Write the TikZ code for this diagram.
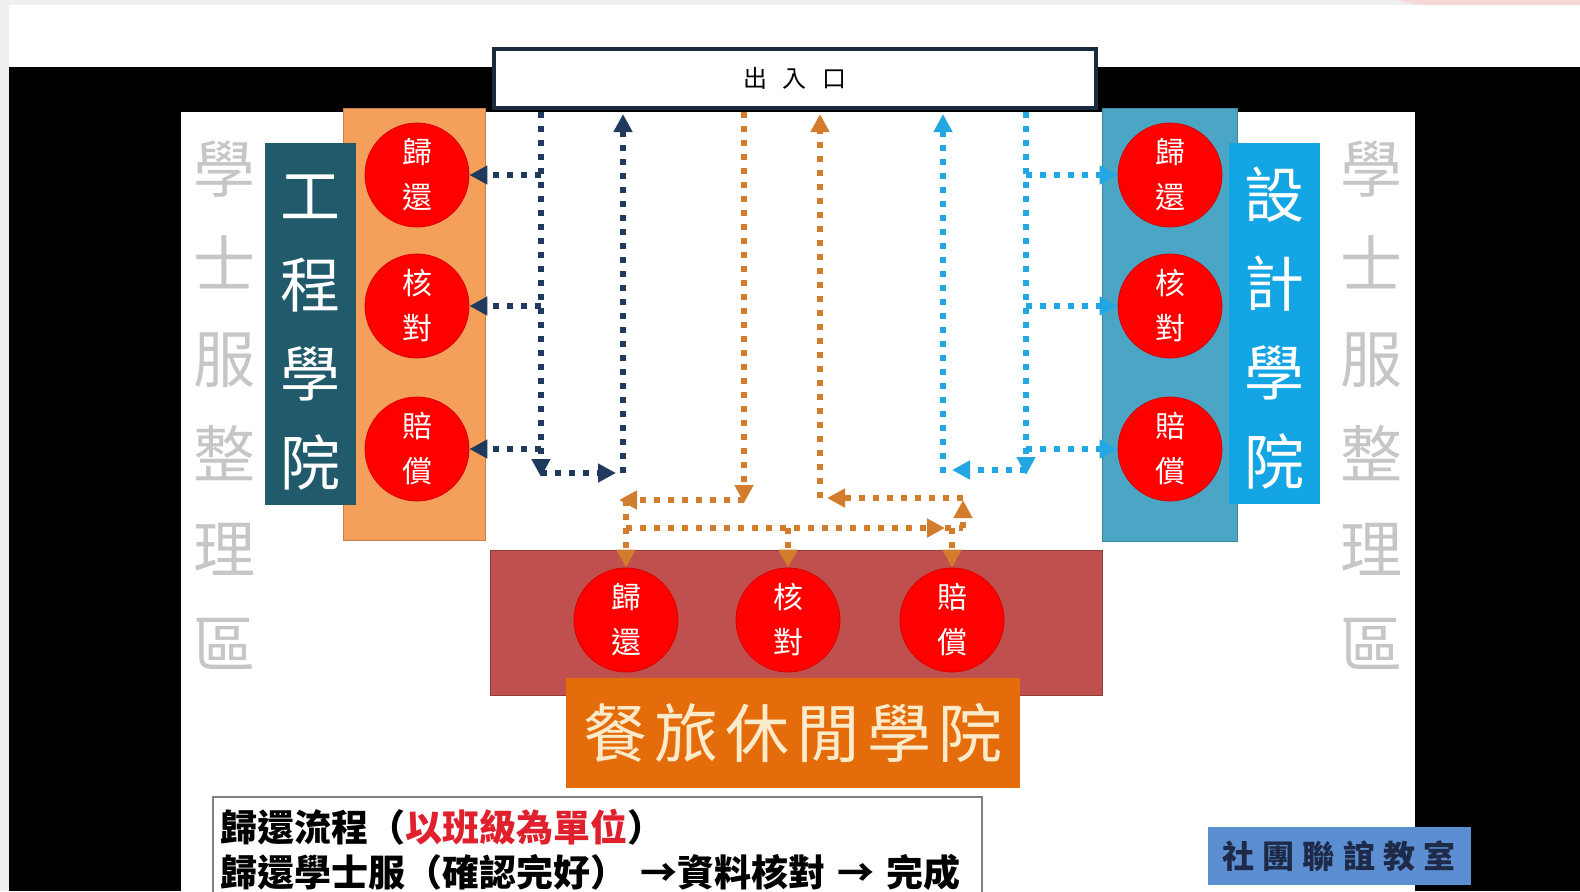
\documentclass[tikz,border=0pt]{standalone}
\usepackage{fontspec}
\usetikzlibrary{arrows.meta,shapes.geometric}
\newfontfamily\cjk{Noto Sans CJK TC}

\definecolor{edgegray}{HTML}{EFEFEF}
\definecolor{cornerpink}{HTML}{F4D9D6}
\definecolor{engorange}{HTML}{F4A05A}
\definecolor{engteal}{HTML}{215A6B}
\definecolor{dsnteal}{HTML}{4AA6C4}
\definecolor{dsnblue}{HTML}{14A5E5}
\definecolor{hallred}{HTML}{C0504D}
\definecolor{hallorange}{HTML}{E46C0A}
\definecolor{hallcream}{HTML}{FCEBCB}
\definecolor{stopred}{HTML}{FF0000}
\definecolor{robegray}{HTML}{C6C6C6}
\definecolor{exitnavy}{HTML}{1C2B3C}
\definecolor{flownavy}{HTML}{203A5E}
\definecolor{floworange}{HTML}{D27D2D}
\definecolor{flowcyan}{HTML}{22A7E2}
\definecolor{clubblue}{HTML}{5B8FD2}
\definecolor{clubtext}{HTML}{1E2A48}
\definecolor{notegray}{HTML}{808080}
\definecolor{notered}{HTML}{E0202C}

\tikzset{
  stop/.style={circle, fill=stopred, draw=stopred!85!black, line width=0.4pt,
    minimum size=52pt, inner sep=0pt, align=center,
    text=white, font=\cjk\fontsize{15}{22.5}\selectfont},
  college/.style={inner sep=0pt, align=center, text=white,
    font=\cjk\fontsize{30}{44.5}\selectfont},
  robearea/.style={inner sep=0pt, align=center, text=robegray,
    font=\cjk\fontsize{31}{47.5}\selectfont},
  flow/.style={line width=3.2pt, dash pattern=on 3pt off 4pt,
    -{Triangle[length=9pt,width=9pt]}},
  navyflow/.style={flow, color=flownavy},
  orangeflow/.style={flow, color=floworange},
  cyanflow/.style={flow, color=flowcyan},
  club/.style={fill=clubblue, inner sep=0pt, minimum width=131.5pt, minimum height=29pt,
    text=clubtext, font={\cjk\bfseries\fontsize{16}{18}\selectfont\addfontfeature{LetterSpace=26}}}
}

\begin{document}
\begin{tikzpicture}[x=0.5pt, y=-0.5pt]
\useasboundingbox (0,0) rectangle (1580,891);

% backdrop
\fill[edgegray] (0,0) rectangle (1580,891);
\fill[white] (9,5) rectangle (1580,891);
\fill[black] (9,67) rectangle (1580,891);
\fill[white] (181,112) rectangle (1415,891);
\fill[cornerpink] (1396,0) -- (1420,5) -- (1580,5) -- (1580,0) -- cycle;

% college areas
\filldraw[fill=engorange, draw=engorange!80!black] (343,108) rectangle (485,540);
\filldraw[fill=dsnteal, draw=dsnteal!80!black] (1102,108) rectangle (1237,541);
\filldraw[fill=hallred, draw=hallred!75!black] (490,550) rectangle (1102,695);

\node[college, fill=engteal, minimum width=45.5pt, minimum height=181pt] (eng) at (310.5,324) {};
\node[college] (engname) at (310.5,333) {工\\程\\學\\院};
\node[college, fill=dsnblue, minimum width=45.5pt, minimum height=180.5pt] (dsn) at (1274.5,323.5) {};
\node[college] (dsnname) at (1274.5,328) {設\\計\\學\\院};
\node[college, fill=hallorange, text=hallcream, minimum width=227pt, minimum height=55pt,
  font={\cjk\fontsize{32}{36}\selectfont\addfontfeature{LetterSpace=11}}] (hall) at (793,733) {餐旅休閒學院};

\node[robearea] (lrobe) at (224,405) {學\\士\\服\\整\\理\\區};
\node[robearea] (rrobe) at (1371,405) {學\\士\\服\\整\\理\\區};

\node[draw=exitnavy, line width=2pt, fill=white, minimum width=301pt, minimum height=29.5pt, inner sep=0pt,
  font={\cjk\fontsize{12}{14}\selectfont\addfontfeature{LetterSpace=65}}] (exit) at (795,78.5) {出入口};

% return stops
\foreach \i/\y/\lbl in {1/175/{歸\\還},2/306/{核\\對},3/449/{賠\\償}}{
  \node[stop] (le\i) at (417,\y) {\lbl};
  \node[stop] (re\i) at (1170,\y) {\lbl};
}
\foreach \i/\x/\lbl in {1/626/{歸\\還},2/788/{核\\對},3/952/{賠\\償}}
  \node[stop] (bc\i) at (\x,620) {\lbl};

% engineering route
\coordinate (nd) at (541,477);
\coordinate (nr) at (616,473);
\coordinate (nu) at (623,473);
\draw[navyflow, shorten <=1pt] (nd |- exit.south) -- (nd);
\foreach \i in {1,2,3} \draw[navyflow] (nd |- le\i) -- (le\i.east);
\draw[navyflow] (nd |- nr) -- (nr);
\draw[navyflow, shorten >=2pt] (nu) -- (nu |- exit.south);

% hospitality route
\coordinate (od) at (744,503);
\coordinate (ol) at (619,500);
\coordinate (om) at (945,528);
\coordinate (oc) at (963,528);
\coordinate (ot) at (963,500);
\coordinate (ob) at (827,498);
\coordinate (ou) at (820,498);
\draw[orangeflow, shorten <=1pt] (od |- exit.south) -- (od);
\draw[orangeflow] (od |- ol) -- (ol);
\draw[orangeflow] (bc1 |- ol) -- (bc1.north);
\draw[orangeflow] (bc1 |- om) -- (om);
\draw[orangeflow, -] (om) -- (oc);
\foreach \i in {2,3} \draw[orangeflow] (bc\i |- om) -- (bc\i.north);
\draw[orangeflow] (oc) -- (ot);
\draw[orangeflow] (ot |- ob) -- (ob);
\draw[orangeflow, shorten >=2pt] (ou) -- (ou |- exit.south);

% design route
\coordinate (cd) at (1026,475);
\coordinate (cl) at (952,470);
\coordinate (cu) at (943,473);
\draw[cyanflow, shorten <=1pt] (cd |- exit.south) -- (cd);
\foreach \i in {1,2,3} \draw[cyanflow] (cd |- re\i) -- (re\i.west);
\draw[cyanflow] (cd |- cl) -- (cl);
\draw[cyanflow, shorten >=2pt] (cu) -- (cu |- exit.south);

% notes
\node[draw=notegray, line width=0.8pt, fill=white, anchor=north west, inner xsep=4pt, inner ysep=6pt,
  text width=376.5pt, align=left, font=\cjk\bfseries\fontsize{18.5}{22.5}\selectfont] (note) at (212,796)
  {歸還流程（\textcolor{notered}{以班級為單位}）\\歸還學士服（確認完好） →資料核對 → 完成};
\node[club] (clubroom) at (1339,856) {社團聯誼教室};
\end{tikzpicture}
\end{document}
